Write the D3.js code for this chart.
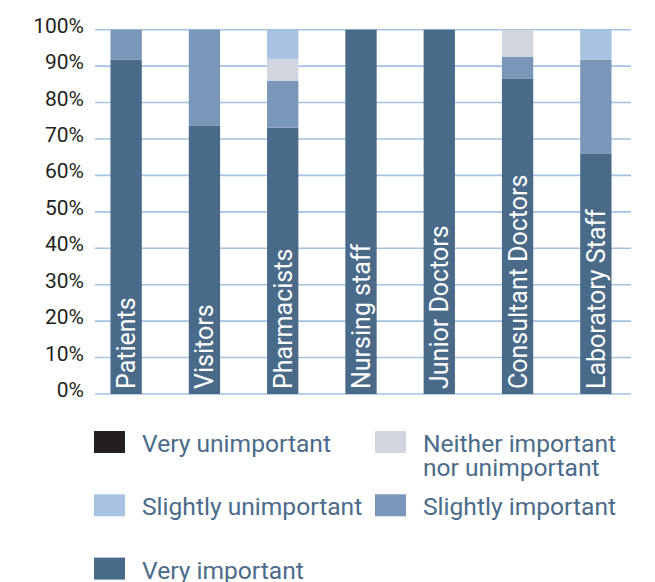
<!DOCTYPE html>
<html lang='en'>
<head>
<meta charset='utf-8'>
<title>Importance by staff group</title>
<script src='https://cdn.jsdelivr.net/npm/d3@7/dist/d3.min.js'></script>
<style>
	body { margin: 0; background: #fff; }
	text { font-family: Roboto, 'Liberation Sans', sans-serif; }
</style>
</head>
<body>
<script>
// data (percent of respondents)
var categories = ['Patients', 'Visitors', 'Pharmacists', 'Nursing staff', 'Junior Doctors', 'Consultant Doctors', 'Laboratory Staff'];
var veryImportant       = [91.8, 73.6, 73.1, 100, 100, 86.5, 65.9];
var slightlyImportant   = [8.2, 26.4, 12.9, 0, 0, 6.1, 25.9];
var neitherImportant    = [0, 0, 6.0, 0, 0, 7.4, 0];
var slightlyUnimportant = [0, 0, 8.0, 0, 0, 0, 8.2];
var veryUnimportant     = [0, 0, 0, 0, 0, 0, 0];
var yTicks = [0, 10, 20, 30, 40, 50, 60, 70, 80, 90, 100];

var seriesNames = ['Very important', 'Slightly important', 'Neither important nor unimportant', 'Slightly unimportant', 'Very unimportant'];
var seriesValues = [veryImportant, slightlyImportant, neitherImportant, slightlyUnimportant, veryUnimportant];
var colors = ['#496a89', '#7a96b9', '#d2d4df', '#a8c3e2', '#231f20'];

var width = 655, height = 582;
var svg = d3.select('body').append('svg').attr('width', width).attr('height', height);

var rows = categories.map(function(c, i) {
	var r = { cat: c };
	seriesNames.forEach(function(s, j) { r[s] = seriesValues[j][i]; });
	return r;
});
var stacked = d3.stack().keys(seriesNames)(rows);

var x = d3.scaleBand().domain(categories).range([87, 635]).paddingInner(0.6).paddingOuter(0.3);
var y = d3.scaleLinear().domain([0, 100]).range([394, 29.7]);

// gridlines
svg.append('g').selectAll('line').data(yTicks).enter().append('line')
	.attr('x1', 95).attr('x2', 631)
	.attr('y1', d => y(d)).attr('y2', d => y(d))
	.attr('stroke', '#a3c2e3').attr('stroke-width', 1.6);

// y axis labels
var yAxis = svg.append('g').attr('transform', 'translate(84,0)')
	.call(d3.axisLeft(y).tickValues(yTicks).tickSize(0).tickPadding(0).tickFormat(d => d + '%'));
yAxis.select('.domain').remove();
yAxis.selectAll('text')
	.attr('font-family', 'Roboto, sans-serif')
	.attr('font-size', 21).attr('fill', '#231f20')
	.attr('dy', '0.12em');

// bars
svg.append('g').selectAll('g').data(stacked).enter().append('g')
	.attr('fill', (d, i) => colors[i])
	.selectAll('rect').data(d => d).enter().append('rect')
	.attr('x', d => x(d.data.cat))
	.attr('width', x.bandwidth())
	.attr('y', d => y(d[1]))
	.attr('height', d => y(d[0]) - y(d[1]));

// category names inside bars
svg.append('g').selectAll('text').data(categories).enter().append('text')
	.attr('transform', d => 'translate(' + (x(d) + x.bandwidth() / 2 + 9) + ',389) rotate(-90)')
	.attr('font-size', 25).attr('fill', '#fff')
	.text(d => d);

// legend
var legendItems = [
	{ lines: ['Very unimportant'], col: 0, row: 0, color: colors[4] },
	{ lines: ['Neither important', 'nor unimportant'], col: 1, row: 0, color: colors[2] },
	{ lines: ['Slightly unimportant'], col: 0, row: 1, color: colors[3] },
	{ lines: ['Slightly important'], col: 1, row: 1, color: colors[1] },
	{ lines: ['Very important'], col: 0, row: 2, color: colors[0] }
];
var legend = svg.append('g').selectAll('g').data(legendItems).enter().append('g')
	.attr('transform', d => 'translate(' + (d.col ? 375 : 94) + ',' + (431 + d.row * 63.3) + ')');
legend.append('rect').attr('width', 31).attr('height', 22).attr('fill', d => d.color);
legend.append('text')
	.attr('font-size', 24.6).attr('fill', '#4a6b8a')
	.selectAll('tspan').data(d => d.lines).enter().append('tspan')
	.attr('x', 48).attr('y', (d, i) => 21 + i * 23.5)
	.text(d => d);
</script>
</body>
</html>
